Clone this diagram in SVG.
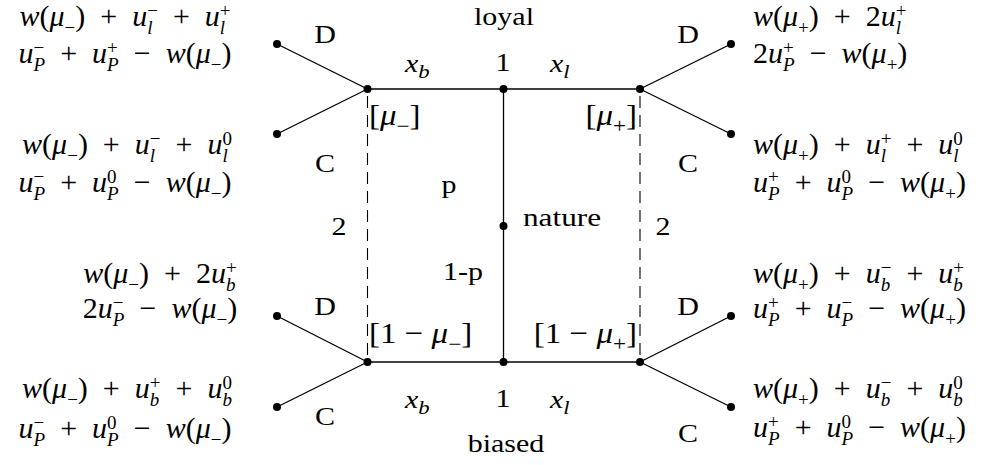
<svg xmlns="http://www.w3.org/2000/svg" width="990" height="465" viewBox="0 0 990 465">
<style>
.t{font-family:"Liberation Serif","Times New Roman",serif;font-size:25px;fill:#000}
.m{font-size:30px}
.b{font-size:30px}
.i{font-style:italic}
.s{font-size:19px}
.bs{font-size:21px}
.e{stroke:#000;stroke-width:1.3;fill:none}
.d{stroke:#000;stroke-width:1.1;stroke-dasharray:12 7;fill:none}
.n{fill:#000}
</style>
<rect width="990" height="465" fill="#fff"/>
<g id="connectors">
<line class="e" x1="367.5" y1="89" x2="640" y2="89"/>
<line class="e" x1="367.5" y1="362" x2="640" y2="362"/>
<line class="e" x1="503.5" y1="89" x2="503.5" y2="362"/>
<line class="e" x1="367.5" y1="89" x2="277" y2="44"/>
<line class="e" x1="367.5" y1="89" x2="277" y2="134"/>
<line class="e" x1="367.5" y1="362" x2="277" y2="316"/>
<line class="e" x1="367.5" y1="362" x2="277" y2="407"/>
<line class="e" x1="640" y1="89" x2="731" y2="44"/>
<line class="e" x1="640" y1="89" x2="731" y2="134"/>
<line class="e" x1="640" y1="362" x2="731" y2="316"/>
<line class="e" x1="640" y1="362" x2="731" y2="407"/>
<line class="d" x1="367.5" y1="96" x2="367.5" y2="362"/>
<line class="d" x1="640" y1="96" x2="640" y2="362"/>
</g>
<g id="edge-labels">
<text class="t" transform="translate(325 43) scale(1.2 1)" text-anchor="middle">D</text>
<text class="t" transform="translate(325 172) scale(1.2 1)" text-anchor="middle">C</text>
<text class="t" transform="translate(325 315) scale(1.2 1)" text-anchor="middle">D</text>
<text class="t" transform="translate(325 425) scale(1.2 1)" text-anchor="middle">C</text>
<text class="t" transform="translate(688 43) scale(1.2 1)" text-anchor="middle">D</text>
<text class="t" transform="translate(688 172) scale(1.2 1)" text-anchor="middle">C</text>
<text class="t" transform="translate(688 315) scale(1.2 1)" text-anchor="middle">D</text>
<text class="t" transform="translate(688 442) scale(1.2 1)" text-anchor="middle">C</text>
<text class="t" transform="translate(405 72) scale(1.2 1)"><tspan class="i">x</tspan><tspan class="s i" dy="6">b</tspan></text>
<text class="t" transform="translate(550 72) scale(1.2 1)"><tspan class="i">x</tspan><tspan class="s i" dy="6">l</tspan></text>
<text class="t" transform="translate(503 71) scale(1.2 1)" text-anchor="middle">1</text>
<text class="t" transform="translate(405 408) scale(1.2 1)"><tspan class="i">x</tspan><tspan class="s i" dy="6">b</tspan></text>
<text class="t" transform="translate(550 408) scale(1.2 1)"><tspan class="i">x</tspan><tspan class="s i" dy="6">l</tspan></text>
<text class="t" transform="translate(503 407) scale(1.2 1)" text-anchor="middle">1</text>
<text class="t" transform="translate(449 193) scale(1.2 1)" text-anchor="middle">p</text>
<text class="t" transform="translate(443 280) scale(1.2 1)">1-p</text>
<text class="t" transform="translate(339 235) scale(1.2 1)" text-anchor="middle">2</text>
<text class="t" transform="translate(663 235) scale(1.2 1)" text-anchor="middle">2</text>
<text class="t b" transform="translate(369 125) scale(1.1 1)">[<tspan class="i">μ</tspan><tspan class="bs" dy="8">−</tspan><tspan dy="-8">]</tspan></text>
<text class="t b" transform="translate(637 125) scale(1.1 1)" text-anchor="end">[<tspan class="i">μ</tspan><tspan class="bs" dy="8">+</tspan><tspan dy="-8">]</tspan></text>
<text class="t b" transform="translate(369 343) scale(1.1 1)">[1 − <tspan class="i">μ</tspan><tspan class="bs" dy="8">−</tspan><tspan dy="-8">]</tspan></text>
<text class="t b" transform="translate(637 343) scale(1.1 1)" text-anchor="end">[1 − <tspan class="i">μ</tspan><tspan class="bs" dy="8">+</tspan><tspan dy="-8">]</tspan></text>
</g>
<g id="node-loyal">
<circle class="n" cx="367.5" cy="89" r="4"/>
<circle class="n" cx="640" cy="89" r="4"/>
<circle class="n" cx="503.5" cy="89" r="4"/>
<text class="t" transform="translate(504 25) scale(1.2 1)" text-anchor="middle">loyal</text>
</g>
<g id="node-biased">
<circle class="n" cx="367.5" cy="362" r="4"/>
<circle class="n" cx="640" cy="362" r="4"/>
<circle class="n" cx="503.5" cy="362" r="4"/>
<text class="t" transform="translate(506 452) scale(1.2 1)" text-anchor="middle">biased</text>
</g>
<g id="node-nature">
<circle class="n" cx="503.5" cy="226" r="4"/>
<text class="t" transform="translate(523 226) scale(1.25 1)">nature</text>
</g>
<g id="leaf-l1">
<circle class="n" cx="277" cy="44" r="4"/>
<text class="t m" x="125" y="26" text-anchor="middle"><tspan class="i">w</tspan>(<tspan class="i">μ</tspan><tspan class="s" dy="8">−</tspan><tspan dy="-8">)&#8194;+&#8194;</tspan><tspan class="i">u</tspan><tspan class="s i" dy="8">l</tspan><tspan class="s" dx="-5.3" dy="-17">−</tspan><tspan dy="9">&#8194;+&#8194;</tspan><tspan class="i">u</tspan><tspan class="s i" dy="8">l</tspan><tspan class="s" dx="-5.3" dy="-17">+</tspan></text>
<text class="t m" x="125" y="63" text-anchor="middle"><tspan class="i">u</tspan><tspan class="s" dy="-9">−</tspan><tspan class="s i" dx="-10.7" dy="17">P</tspan><tspan dy="-8">&#8194;+&#8194;</tspan><tspan class="i">u</tspan><tspan class="s" dy="-9">+</tspan><tspan class="s i" dx="-10.7" dy="17">P</tspan><tspan dy="-8">&#8194;−&#8194;</tspan><tspan class="i">w</tspan>(<tspan class="i">μ</tspan><tspan class="s" dy="8">−</tspan><tspan dy="-8">)</tspan></text>
</g>
<g id="leaf-l2">
<circle class="n" cx="277" cy="134" r="4"/>
<text class="t m" x="127" y="154" text-anchor="middle"><tspan class="i">w</tspan>(<tspan class="i">μ</tspan><tspan class="s" dy="8">−</tspan><tspan dy="-8">)&#8194;+&#8194;</tspan><tspan class="i">u</tspan><tspan class="s i" dy="8">l</tspan><tspan class="s" dx="-5.3" dy="-17">−</tspan><tspan dy="9">&#8194;+&#8194;</tspan><tspan class="i">u</tspan><tspan class="s i" dy="8">l</tspan><tspan class="s" dx="-5.3" dy="-17">0</tspan></text>
<text class="t m" x="125" y="192" text-anchor="middle"><tspan class="i">u</tspan><tspan class="s" dy="-9">−</tspan><tspan class="s i" dx="-10.7" dy="17">P</tspan><tspan dy="-8">&#8194;+&#8194;</tspan><tspan class="i">u</tspan><tspan class="s" dy="-9">0</tspan><tspan class="s i" dx="-9.5" dy="17">P</tspan><tspan dy="-8">&#8194;−&#8194;</tspan><tspan class="i">w</tspan>(<tspan class="i">μ</tspan><tspan class="s" dy="8">−</tspan><tspan dy="-8">)</tspan></text>
</g>
<g id="leaf-l3">
<circle class="n" cx="277" cy="316" r="4"/>
<text class="t m" x="160" y="283" text-anchor="middle"><tspan class="i">w</tspan>(<tspan class="i">μ</tspan><tspan class="s" dy="8">−</tspan><tspan dy="-8">)&#8194;+&#8194;2</tspan><tspan class="i">u</tspan><tspan class="s i" dy="8">b</tspan><tspan class="s" dx="-9.5" dy="-17">+</tspan></text>
<text class="t m" x="160" y="318" text-anchor="middle">2<tspan class="i">u</tspan><tspan class="s" dy="-9">−</tspan><tspan class="s i" dx="-10.7" dy="17">P</tspan><tspan dy="-8">&#8194;−&#8194;</tspan><tspan class="i">w</tspan>(<tspan class="i">μ</tspan><tspan class="s" dy="8">−</tspan><tspan dy="-8">)</tspan></text>
</g>
<g id="leaf-l4">
<circle class="n" cx="277" cy="407" r="4"/>
<text class="t m" x="127" y="398" text-anchor="middle"><tspan class="i">w</tspan>(<tspan class="i">μ</tspan><tspan class="s" dy="8">−</tspan><tspan dy="-8">)&#8194;+&#8194;</tspan><tspan class="i">u</tspan><tspan class="s i" dy="8">b</tspan><tspan class="s" dx="-9.5" dy="-17">+</tspan><tspan dy="9">&#8194;+&#8194;</tspan><tspan class="i">u</tspan><tspan class="s i" dy="8">b</tspan><tspan class="s" dx="-9.5" dy="-17">0</tspan></text>
<text class="t m" x="125" y="438" text-anchor="middle"><tspan class="i">u</tspan><tspan class="s" dy="-9">−</tspan><tspan class="s i" dx="-10.7" dy="17">P</tspan><tspan dy="-8">&#8194;+&#8194;</tspan><tspan class="i">u</tspan><tspan class="s" dy="-9">0</tspan><tspan class="s i" dx="-9.5" dy="17">P</tspan><tspan dy="-8">&#8194;−&#8194;</tspan><tspan class="i">w</tspan>(<tspan class="i">μ</tspan><tspan class="s" dy="8">−</tspan><tspan dy="-8">)</tspan></text>
</g>
<g id="leaf-r1">
<circle class="n" cx="731" cy="44" r="4"/>
<text class="t m" x="753" y="26"><tspan class="i">w</tspan>(<tspan class="i">μ</tspan><tspan class="s" dy="8">+</tspan><tspan dy="-8">)&#8194;+&#8194;2</tspan><tspan class="i">u</tspan><tspan class="s i" dy="8">l</tspan><tspan class="s" dx="-5.3" dy="-17">+</tspan></text>
<text class="t m" x="753" y="63">2<tspan class="i">u</tspan><tspan class="s" dy="-9">+</tspan><tspan class="s i" dx="-10.7" dy="17">P</tspan><tspan dy="-8">&#8194;−&#8194;</tspan><tspan class="i">w</tspan>(<tspan class="i">μ</tspan><tspan class="s" dy="8">+</tspan><tspan dy="-8">)</tspan></text>
</g>
<g id="leaf-r2">
<circle class="n" cx="731" cy="134" r="4"/>
<text class="t m" x="753" y="154"><tspan class="i">w</tspan>(<tspan class="i">μ</tspan><tspan class="s" dy="8">+</tspan><tspan dy="-8">)&#8194;+&#8194;</tspan><tspan class="i">u</tspan><tspan class="s i" dy="8">l</tspan><tspan class="s" dx="-5.3" dy="-17">+</tspan><tspan dy="9">&#8194;+&#8194;</tspan><tspan class="i">u</tspan><tspan class="s i" dy="8">l</tspan><tspan class="s" dx="-5.3" dy="-17">0</tspan></text>
<text class="t m" x="753" y="192"><tspan class="i">u</tspan><tspan class="s" dy="-9">+</tspan><tspan class="s i" dx="-10.7" dy="17">P</tspan><tspan dy="-8">&#8194;+&#8194;</tspan><tspan class="i">u</tspan><tspan class="s" dy="-9">0</tspan><tspan class="s i" dx="-9.5" dy="17">P</tspan><tspan dy="-8">&#8194;−&#8194;</tspan><tspan class="i">w</tspan>(<tspan class="i">μ</tspan><tspan class="s" dy="8">+</tspan><tspan dy="-8">)</tspan></text>
</g>
<g id="leaf-r3">
<circle class="n" cx="731" cy="316" r="4"/>
<text class="t m" x="753" y="283"><tspan class="i">w</tspan>(<tspan class="i">μ</tspan><tspan class="s" dy="8">+</tspan><tspan dy="-8">)&#8194;+&#8194;</tspan><tspan class="i">u</tspan><tspan class="s i" dy="8">b</tspan><tspan class="s" dx="-9.5" dy="-17">−</tspan><tspan dy="9">&#8194;+&#8194;</tspan><tspan class="i">u</tspan><tspan class="s i" dy="8">b</tspan><tspan class="s" dx="-9.5" dy="-17">+</tspan></text>
<text class="t m" x="753" y="318"><tspan class="i">u</tspan><tspan class="s" dy="-9">+</tspan><tspan class="s i" dx="-10.7" dy="17">P</tspan><tspan dy="-8">&#8194;+&#8194;</tspan><tspan class="i">u</tspan><tspan class="s" dy="-9">−</tspan><tspan class="s i" dx="-10.7" dy="17">P</tspan><tspan dy="-8">&#8194;−&#8194;</tspan><tspan class="i">w</tspan>(<tspan class="i">μ</tspan><tspan class="s" dy="8">+</tspan><tspan dy="-8">)</tspan></text>
</g>
<g id="leaf-r4">
<circle class="n" cx="731" cy="407" r="4"/>
<text class="t m" x="753" y="398"><tspan class="i">w</tspan>(<tspan class="i">μ</tspan><tspan class="s" dy="8">+</tspan><tspan dy="-8">)&#8194;+&#8194;</tspan><tspan class="i">u</tspan><tspan class="s i" dy="8">b</tspan><tspan class="s" dx="-9.5" dy="-17">−</tspan><tspan dy="9">&#8194;+&#8194;</tspan><tspan class="i">u</tspan><tspan class="s i" dy="8">b</tspan><tspan class="s" dx="-9.5" dy="-17">0</tspan></text>
<text class="t m" x="753" y="437"><tspan class="i">u</tspan><tspan class="s" dy="-9">+</tspan><tspan class="s i" dx="-10.7" dy="17">P</tspan><tspan dy="-8">&#8194;+&#8194;</tspan><tspan class="i">u</tspan><tspan class="s" dy="-9">0</tspan><tspan class="s i" dx="-9.5" dy="17">P</tspan><tspan dy="-8">&#8194;−&#8194;</tspan><tspan class="i">w</tspan>(<tspan class="i">μ</tspan><tspan class="s" dy="8">+</tspan><tspan dy="-8">)</tspan></text>
</g>
</svg>
